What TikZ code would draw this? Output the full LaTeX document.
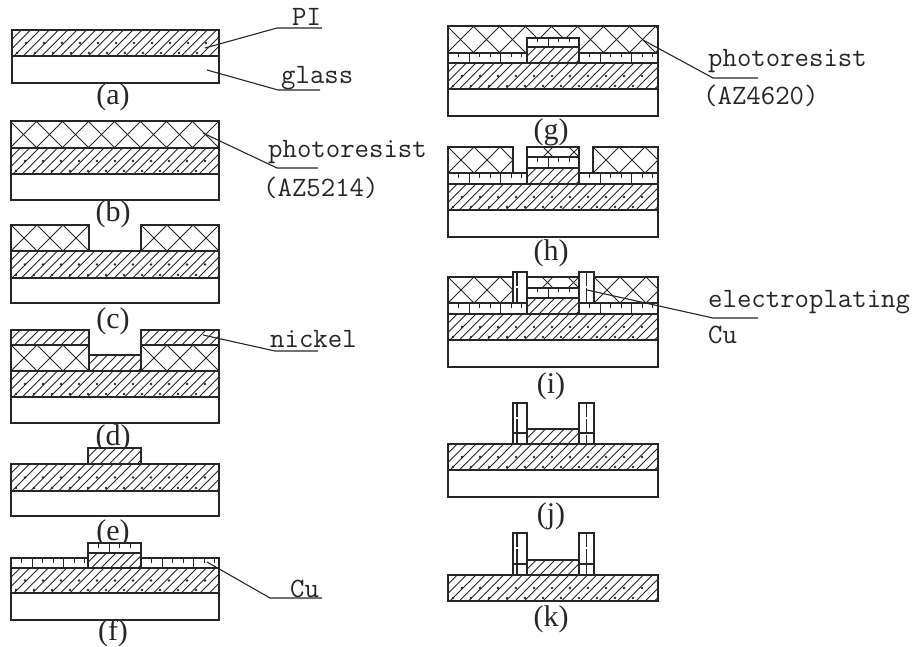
\documentclass[tikz,border=0pt]{standalone}
\usepackage{fontspec}
\newfontfamily\subfont{Liberation Serif}
\definecolor{ink}{HTML}{262626}
\tikzset{
    outl/.style={draw=ink,line width=1.4pt},
    hatchl/.style={ink,line width=0.9pt},
    lead/.style={draw=ink,line width=1.1pt},
    lab/.style={font=\fontsize{28}{30}\selectfont\ttfamily,text=ink,anchor=base west,inner sep=0pt},
    sublab/.style={font=\fontsize{30}{32}\selectfont\subfont,text=ink,anchor=base,inner sep=0pt}
}
\newcommand{\fwdlines}[5]{%
    \pgfmathsetmacro{\hh}{#4-#2}
    \pgfmathtruncatemacro{\nh}{(#3-#1+\hh)/#5}
    \foreach \k in {0,...,\nh}
        \draw[hatchl] ({#1-\hh+#5*\k},#4) -- ({#1+#5*\k},#2);
}
\newcommand{\backlines}[5]{%
    \pgfmathsetmacro{\hh}{#4-#2}
    \pgfmathtruncatemacro{\nh}{(#3-#1+\hh)/#5}
    \foreach \k in {0,...,\nh}
        \draw[hatchl] ({#1-\hh+#5*\k},#2) -- ({#1+#5*\k},#4);
}
\newcommand{\glasslayer}[4]{\draw[outl] (#1,#2) rectangle (#3,#4);}
\newcommand{\nilayer}[4]{%
    \begin{scope}
    \clip (#1,#2) rectangle (#3,#4);
    \fwdlines{#1}{#2}{#3}{#4}{9.3}
    \end{scope}
    \draw[outl] (#1,#2) rectangle (#3,#4);
}
\newcommand{\prlayer}[4]{%
    \begin{scope}
    \clip (#1,#2) rectangle (#3,#4);
    \fwdlines{#1}{#2}{#3}{#4}{26}
    \backlines{#1}{#2}{#3}{#4}{26}
    \end{scope}
    \draw[outl] (#1,#2) rectangle (#3,#4);
}
\newcommand{\pilayer}[4]{%
    \nilayer{#1}{#2}{#3}{#4}
    \pgfmathtruncatemacro{\nd}{(#3-#1-14)/18}
    \foreach \k in {0,...,\nd} {
        \fill[ink] ({#1+18*\k+5},{#4-3}) circle (1.3pt);
        \fill[ink] ({#1+18*\k+14},{(#2+#4)/2}) circle (1.3pt);
    }
}
\newcommand{\culayer}[4]{%
    \draw[outl] (#1,#2) rectangle (#3,#4);
    \pgfmathtruncatemacro{\nt}{(#3-#1-3)/10.5}
    \foreach \k in {1,...,\nt} {
        \pgfmathsetmacro{\tl}{mod(\k,3)==2 ? 1 : 0.45}
        \draw[ink,line width=1pt] ({#1+10.5*\k},#2) -- ({#1+10.5*\k},{#2+\tl*(#4-#2)});
    }
}
\newcommand{\postl}[3]{%
    \draw[outl,fill=white] (513,#1) rectangle (527,#3);
    \draw[ink,line width=2pt,dash pattern=on 14pt off 2pt] (517,#1) -- (517,#2);
    \draw[ink,line width=2pt] (517,#2) -- (517,#3);
}
\newcommand{\postr}[3]{%
    \draw[outl,fill=white] (579,#1) rectangle (594,#3);
    \draw[ink,line width=1pt,dash pattern=on 14pt off 2pt] (586,#1) -- (586,#3);
}
\begin{document}
\begin{tikzpicture}[x=1pt,y=-1pt]
\useasboundingbox (0,0) rectangle (919,647);

\foreach \n/\xx/\yy in {a/113/105,b/113/222,c/113/328,d/113/445,e/113/540,f/113/640,g/551/140,h/551/261,i/551/393,j/551/523,k/551/626}
    \node[sublab] (sub-\n) at (\xx,\yy) {(\n)};

\pilayer{12}{30}{219}{56}
\glasslayer{12}{56}{219}{83}

\prlayer{11}{121}{219}{148}
\pilayer{11}{148}{219}{174}
\glasslayer{11}{174}{219}{200}

\prlayer{11}{225}{89}{251}
\prlayer{141}{225}{219}{251}
\pilayer{11}{251}{219}{278}
\glasslayer{11}{278}{219}{303}

\nilayer{11}{330}{89}{345}
\nilayer{141}{330}{219}{345}
\prlayer{11}{345}{89}{371}
\prlayer{141}{345}{219}{371}
\nilayer{89}{355}{141}{371}
\pilayer{11}{371}{219}{397}
\glasslayer{11}{397}{219}{423}

\fill[white] (88,448) rectangle (141,464);
\nilayer{88}{448}{141}{464}
\pilayer{11}{464}{219}{491}
\glasslayer{11}{491}{219}{516}

\fill[white] (88,543) rectangle (141,568);
\culayer{88}{543}{141}{553}
\nilayer{88}{553}{141}{568}
\culayer{11}{558}{88}{568}
\culayer{141}{558}{219}{568}
\pilayer{11}{568}{219}{593}
\glasslayer{11}{593}{219}{620}

\prlayer{448}{26}{658}{53}
\fill[white] (527,38) rectangle (579,63);
\culayer{527}{38}{579}{47}
\nilayer{527}{47}{579}{63}
\culayer{448}{53}{527}{63}
\culayer{579}{53}{658}{63}
\pilayer{448}{63}{658}{89}
\glasslayer{448}{89}{658}{116}

\prlayer{448}{147}{513}{173}
\prlayer{593}{147}{658}{173}
\prlayer{527}{147}{579}{157}
\culayer{527}{157}{579}{168}
\nilayer{527}{168}{579}{184}
\culayer{448}{173}{527}{184}
\culayer{579}{173}{658}{184}
\pilayer{448}{184}{658}{210}
\glasslayer{448}{210}{658}{237}

\prlayer{448}{277}{513}{303}
\prlayer{594}{277}{658}{303}
\prlayer{527}{277}{579}{288}
\culayer{527}{288}{579}{298}
\nilayer{527}{298}{579}{314}
\culayer{448}{303}{527}{314}
\culayer{579}{303}{658}{314}
\postl{272}{303}{303}
\postr{272}{303}{303}
\pilayer{448}{314}{658}{340}
\glasslayer{448}{340}{658}{367}

\nilayer{527}{429}{579}{444}
\postl{403}{433}{444}
\postr{403}{433}{444}
\draw[outl] (513,433) -- (527,433) (579,433) -- (594,433);
\pilayer{448}{444}{658}{470}
\glasslayer{448}{470}{658}{497}

\nilayer{527}{560}{579}{575}
\postl{533}{564}{575}
\postr{533}{564}{575}
\draw[outl] (513,564) -- (527,564) (579,564) -- (594,564);
\pilayer{448}{575}{658}{601}

\node[lab] (pi) at (292,26) {PI};
\node[lab] (glass) at (281,84) {glass};
\node[lab] (pra) at (268,158) {photoresist};
\node[lab] (aza) at (263,197) {(AZ5214)};
\node[lab] (ni) at (270,347) {nickel};
\node[lab] (cua) at (290,597) {Cu};
\node[lab] (prb) at (708,67) {photoresist};
\node[lab] (azb) at (703,105) {(AZ4620)};
\node[lab] (ep) at (708,308) {electroplating};
\node[lab] (cub) at (708,343) {Cu};

\coordinate (pi0) at (205,48);
\coordinate (pi1) at (277,28);
\coordinate (pi2) at (322,28);
\coordinate (gl0) at (207,70);
\coordinate (gl1) at (278,90);
\coordinate (gl2) at (320,90);
\coordinate (pa0) at (203,133);
\coordinate (pa1) at (277,168);
\coordinate (pa2) at (318,168);
\coordinate (ni0) at (203,335);
\coordinate (ni1) at (275,351);
\coordinate (ni2) at (318,351);
\coordinate (cu0) at (207,562);
\coordinate (cu1) at (270,598);
\coordinate (cu2) at (322,598);
\coordinate (pb0) at (643,40);
\coordinate (pb1) at (713,78);
\coordinate (pb2) at (758,78);
\coordinate (ep0) at (587,290);
\coordinate (ep1) at (713,318);
\coordinate (ep2) at (758,318);

\draw[lead] (pi0) -- (pi1) -- (pi2);
\draw[lead] (gl0) -- (gl1) -- (gl2);
\draw[lead] (pa0) -- (pa1) -- (pa2);
\draw[lead] (ni0) -- (ni1) -- (ni2);
\draw[lead] (cu0) -- (cu1) -- (cu2);
\draw[lead] (pb0) -- (pb1) -- (pb2);
\draw[lead] (ep0) -- (ep1) -- (ep2);
\end{tikzpicture}
\end{document}
